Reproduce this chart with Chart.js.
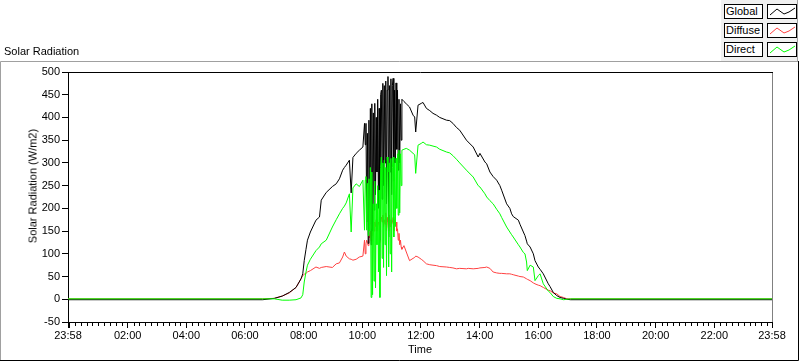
<!DOCTYPE html>
<html>
<head>
<meta charset="utf-8">
<script src="https://cdn.jsdelivr.net/npm/chart.js@4.4.1/dist/chart.umd.min.js"></script>
<style>
html,body{margin:0;padding:0;background:#fff;}
body{width:800px;height:361px;position:relative;overflow:hidden;font-family:"Liberation Sans",Arial,sans-serif;font-size:11px;color:#000;}
#c{position:absolute;left:0;top:0;}
#title{position:absolute;left:4px;top:45px;line-height:13px;white-space:nowrap;}
#ytitle{position:absolute;left:33px;top:186px;width:200px;height:13px;line-height:13px;text-align:center;white-space:nowrap;transform:translate(-50%,-50%) rotate(-90deg);}
#legend{position:absolute;left:721px;top:0;width:76px;height:61px;background:#f0f0f0;border-right:1px solid #a0a0a0;}
.row{position:absolute;left:3px;width:73px;height:15px;}
.lab{position:absolute;left:0;top:0;width:39px;height:15px;border:1px solid #000;background:#fff;color:#000;line-height:13px;padding-left:1px;box-sizing:border-box;white-space:nowrap;overflow:hidden;}
.smp{position:absolute;left:43px;top:0;width:30px;height:15px;border:1px solid #000;background:#fff;box-sizing:border-box;}
.smp svg{position:absolute;left:0;top:0;}
</style>
</head>
<body>
<canvas id="c" width="800" height="361"></canvas>
<div id="title">Solar Radiation</div>
<div id="ytitle">Solar Radiation (W/m2)</div>
<div id="legend"></div>
<script>
// ---- data (hours of day; W/m2) ----
const seriesNames = ['Global', 'Diffuse', 'Direct'];
const seriesColors = ['#000000', '#ff4040', '#00ff00'];

const times = [
  -0.0333, 6.60, 7.00, 7.27, 7.51, 7.74, 7.91, 7.97, 8.02, 8.08, 8.13, 8.23, 8.42, 8.54, 8.60, 8.77, 8.98, 9.11, 9.22, 9.33, 9.39, 9.45, 9.56, 9.62, 9.68, 9.79, 9.90, 10.02, 10.075,
  10.100, 10.125, 10.150, 10.175, 10.200, 10.225, 10.250, 10.275, 10.300, 10.325, 10.350, 10.375, 10.400, 10.425, 10.450, 10.475, 10.500, 10.525, 10.550, 10.575, 10.600, 10.625, 10.650, 10.675, 10.700, 10.725, 10.750, 10.775, 10.800, 10.825, 10.850, 10.875, 10.900, 10.925, 10.950, 10.975, 11.000, 11.025, 11.050, 11.075, 11.100, 11.125, 11.150, 11.175, 11.200, 11.225, 11.250, 11.275, 11.300, 11.325, 11.350,
  11.42, 11.50, 11.61, 11.73, 11.785, 11.82, 11.90, 12.01, 12.07, 12.185, 12.30, 12.41, 12.53, 12.64, 12.87, 12.98, 13.09, 13.21, 13.32, 13.55, 13.61, 13.78, 13.95, 14.01, 14.18, 14.24, 14.35, 14.46, 14.58, 14.69, 14.75, 14.92, 15.03, 15.09, 15.145, 15.32, 15.375, 15.49, 15.545, 15.60, 15.625, 15.72, 15.83, 15.887, 16.00, 16.06, 16.17, 16.34, 16.40, 16.51, 16.63, 16.74, 16.86, 16.97, 17.10, 23.9667
];

const globalRad = [
  -1, -1, 2, 7, 15, 26, 45, 56, 85, 110, 130, 148, 174, 181, 218, 235, 248, 254, 265, 284, 290, 295, 306, 234, 312, 321, 328, 335, 387,
  340, 387, 170, 365, 123, 394, 165, 420, 120, 430, 150, 410, 196, 431, 230, 400, 280, 440, 200, 420, 130, 450, 460, 220, 475, 250, 470, 300, 480, 210, 460, 490, 137, 470, 280, 485, 230, 470, 486, 260, 460, 300, 476, 330, 460, 284, 440, 300, 430, 350, 440,
  435, 430, 423, 405, 401, 368, 427, 431, 433, 420, 415, 409, 405, 400, 394, 393, 387, 378, 372, 350, 346, 335, 313, 321, 302, 298, 280, 270, 262, 250, 240, 210, 200, 188, 182, 174, 165, 148, 140, 128, 122, 115, 100, 85, 71, 66, 56, 34, 28, 15, 8, 4, 2, 0, -1, -1
];

const diffuseRad = [
  1, 1, 2, 7, 14, 26, 45, 52, 55, 57, 60, 63, 71, 68, 70, 72, 70, 78, 80, 93, 104, 95, 89, 88, 86, 88, 93, 95, 130,
  100, 122, 130, 125, 118, 140, 135, 150, 128, 155, 140, 165, 150, 170, 160, 175, 150, 165, 170, 160, 125, 175, 181, 170, 185, 160, 175, 165, 190, 150, 180, 170, 150, 185, 160, 175, 165, 170, 180, 150, 175, 165, 170, 150, 155, 130, 145, 120, 130, 115, 110,
  118, 104, 85, 90, 92, 95, 93, 88, 85, 78, 76, 75, 74, 72, 71, 70, 69, 67, 68, 67, 68, 67, 68, 69, 70, 71, 68, 60, 58, 57, 57, 56, 56, 55, 54, 51, 50, 49, 47, 45, 44, 41, 36, 34, 31, 30, 26, 20, 19, 14, 12, 6, 4, 1, 1, 1
];

const directRad = [
  1, 1, 1, -2, -2, -1, 3, 10, 38, 60, 75, 88, 107, 115, 122, 130, 159, 175, 188, 200, 205, 212, 232, 148, 245, 254, 248, 262, 152,
  262, 270, 152, 255, 140, 265, 150, 290, 4, 280, 10, 210, 40, 260, 25, 210, 120, 250, 60, 240, 4, 290, 313, 90, 300, 70, 306, 120, 290, 52, 313, 280, 71, 300, 100, 310, 60, 290, 313, 137, 300, 160, 310, 200, 320, 185, 328, 190, 320, 250, 328,
  330, 332, 328, 321, 318, 277, 339, 343, 346, 340, 339, 337, 335, 330, 324, 322, 316, 308, 300, 284, 280, 269, 250, 247, 232, 225, 217, 210, 198, 188, 180, 159, 148, 142, 137, 120, 115, 103, 100, 82, 63, 75, 71, 41, 52, 56, 34, 18, 15, 6, 2, 1, -1, 0, 1, 1
];

const xMin = -0.0333, xMax = 23.9667;
const xTickValues = [-0.0333, 2, 4, 6, 8, 10, 12, 14, 16, 18, 20, 22, 23.9667];
const xTickLabels = ['23:58', '02:00', '04:00', '06:00', '08:00', '10:00', '12:00', '14:00', '16:00', '18:00', '20:00', '22:00', '23:58'];
const yTickValues = [-50, 0, 50, 100, 150, 200, 250, 300, 350, 400, 450, 500];

// ---- legend (HTML) ----
const legendEl = document.getElementById('legend');
seriesNames.forEach((name, i) => {
  const row = document.createElement('div');
  row.className = 'row';
  row.style.top = (4 + i * 19) + 'px';
  row.innerHTML = '<div class="lab">' + name + '</div><div class="smp"><svg width="28" height="13"><polyline points="2,10 9,4 16,9 21,7 27,3" fill="none" stroke="' + seriesColors[i] + '" stroke-width="1"/></svg></div>';
  legendEl.appendChild(row);
});

const FONT = {family: '"Liberation Sans", Arial, sans-serif', size: 11};

// minor tick positions of the time axis (every 12 minutes)
const minorTicks = [];
for (let k = 0; k < 120; k++) { if (k % 10 !== 0) minorTicks.push(k * 0.2); }

const framePlugin = {
  id: 'frame',
  afterDraw(chart) {
    const {ctx, chartArea: a, scales: {x}} = chart;
    ctx.save();
    ctx.lineWidth = 1;
    ctx.strokeStyle = '#a0a0a0';
    ctx.beginPath();
    ctx.moveTo(0.5, 360); ctx.lineTo(0.5, 61.5); ctx.lineTo(798, 61.5);
    ctx.stroke();
    ctx.strokeStyle = '#000';
    ctx.beginPath();
    ctx.moveTo(798.5, 61); ctx.lineTo(798.5, 360.5); ctx.lineTo(0, 360.5);
    ctx.stroke();
    ctx.beginPath();
    ctx.moveTo(Math.round(a.left), Math.round(a.top) + 0.5); ctx.lineTo(Math.round(a.right) + 1, Math.round(a.top) + 0.5);
    ctx.stroke();
    ctx.strokeStyle = '#808080';
    ctx.beginPath();
    ctx.moveTo(Math.round(a.right) + 0.5, Math.round(a.top) + 1); ctx.lineTo(Math.round(a.right) + 0.5, Math.round(a.bottom));
    ctx.stroke();
    ctx.strokeStyle = '#000';
    ctx.beginPath();
    const b = Math.round(a.bottom);
    minorTicks.forEach(h => {
      const px = Math.round(x.getPixelForValue(h)) + 0.5;
      ctx.moveTo(px, b + 1); ctx.lineTo(px, b + 4);
    });
    const p0 = Math.round(x.getPixelForValue(0)) + 0.5;
    ctx.moveTo(p0, b); ctx.lineTo(p0, b + 6);
    ctx.stroke();
    ctx.restore();
  }
};

const mk = (vals) => times.map((t, i) => ({x: t, y: vals[i]}));

new Chart(document.getElementById('c'), {
  type: 'line',
  data: {
    datasets: [
      {label: seriesNames[0], data: mk(globalRad), borderColor: seriesColors[0], borderWidth: 1, pointRadius: 0, tension: 0, order: 2},
      {label: seriesNames[1], data: mk(diffuseRad), borderColor: seriesColors[1], borderWidth: 1, pointRadius: 0, tension: 0, order: 3},
      {label: seriesNames[2], data: mk(directRad), borderColor: seriesColors[2], borderWidth: 1, pointRadius: 0, tension: 0, order: 1}
    ]
  },
  options: {
    responsive: false,
    animation: false,
    events: [],
    layout: {padding: {left: 27, top: 72, right: 28, bottom: 0}},
    plugins: {legend: {display: false}, tooltip: {enabled: false}},
    scales: {
      x: {
        type: 'linear', min: xMin, max: xMax,
        afterBuildTicks: s => { s.ticks = xTickValues.map(v => ({value: v})); },
        afterFit: s => { s.height = 39; },
        ticks: {autoSkip: false, maxRotation: 0, color: '#000', font: FONT, padding: 1,
                callback: (v, i) => xTickLabels[i]},
        grid: {drawOnChartArea: false, tickLength: 6, tickColor: '#000', color: '#000'},
        border: {color: '#000', width: 1},
        title: {display: true, text: 'Time', color: '#000', font: FONT, padding: {top: 0, bottom: 4}}
      },
      y: {
        min: -50, max: 500,
        afterBuildTicks: s => { s.ticks = yTickValues.map(v => ({value: v})); },
        afterFit: s => { s.width = 41; },
        ticks: {color: '#000', font: FONT, padding: 2},
        grid: {drawOnChartArea: false, tickLength: 6, tickColor: '#000', color: '#000'},
        border: {color: '#000', width: 1}
      }
    }
  },
  plugins: [framePlugin]
});
</script>
</body>
</html>
